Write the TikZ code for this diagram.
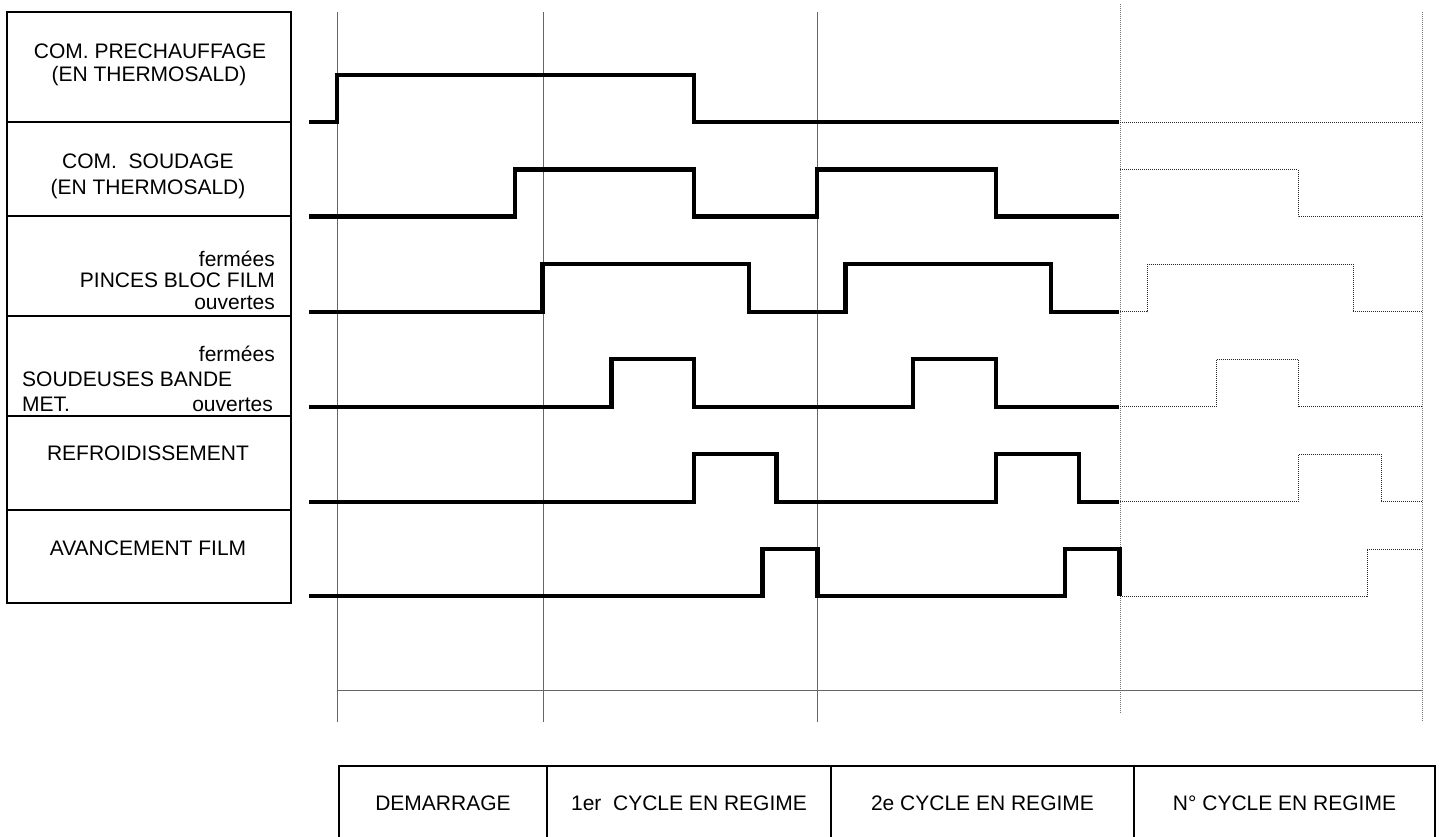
\documentclass[tikz,border=0pt]{standalone}
\usepackage{fontspec}
\setmainfont{Liberation Sans}
\begin{document}
\begin{tikzpicture}[x=1pt,y=-1pt,
  font=\fontsize{21}{24}\selectfont,
  lbox/.style={draw, line width=2.2pt, minimum width=284pt, inner sep=0pt, outer sep=0pt},
  lab/.style={inner sep=0pt, anchor=base},
  gridline/.style={line width=1pt, black!60},
  griddot/.style={line width=1pt, black!55, dash pattern=on 1pt off 1pt},
  sig/.style={line width=4.2pt, line join=miter, line cap=butt},
  sigdot/.style={line width=1pt, black!85, dash pattern=on 1pt off 1pt},
  cell/.style={draw, line width=2.4pt, minimum height=73pt, text height=15pt, text depth=0pt, inner sep=0pt, outer sep=0pt}]
\useasboundingbox (0,0) rectangle (1441,836);
\clip (0,0) rectangle (1441,836);

% left label boxes
\node[lbox, minimum height=110pt] (b1) at (149,67) {};
\node[lbox, minimum height=94pt]  (b2) at (149,169) {};
\node[lbox, minimum height=100pt] (b3) at (149,266) {};
\node[lbox, minimum height=100pt] (b4) at (149,366) {};
\node[lbox, minimum height=94pt]  (b5) at (149,463) {};
\node[lbox, minimum height=93pt]  (b6) at (149,556.5) {};

\node[lab] (t1a) at (150,58) {COM. PRECHAUFFAGE};
\node[lab] (t1b) at (149,81.5) {(EN THERMOSALD)};
\node[lab] (t2a) at (148,168) {COM.\ \ SOUDAGE};
\node[lab] (t2b) at (148,194) {(EN THERMOSALD)};
\node[lab, anchor=base east] (t3a) at (275,266.5) {fermées};
\node[lab, anchor=base east] (t3b) at (275,287) {PINCES BLOC FILM};
\node[lab, anchor=base east] (t3c) at (275,309) {ouvertes};
\node[lab, anchor=base east] (t4a) at (275,361.5) {fermées};
\node[lab, anchor=base west] (t4b) at (22,386.5) {SOUDEUSES BANDE};
\node[lab, anchor=base west] (t4c) at (22,411) {MET.};
\node[lab, anchor=base east] (t4d) at (273,411) {ouvertes};
\node[lab] (t5) at (148,460) {REFROIDISSEMENT};
\node[lab] (t6) at (148,555) {AVANCEMENT FILM};

% grid lines
\coordinate (v1t) at (337,12);   \coordinate (v1b) at (337,722);
\coordinate (v2t) at (543,12);   \coordinate (v2b) at (543,722);
\coordinate (v3t) at (817,12);   \coordinate (v3b) at (817,722);
\coordinate (v4t) at (1120,4);   \coordinate (v4b) at (1120,713);
\coordinate (v5t) at (1422,12);  \coordinate (v5b) at (1422,722);
\coordinate (hl) at (337,690.5); \coordinate (hr) at (1422,690.5);
\draw[gridline] (v1t) -- (v1b);
\draw[gridline] (v2t) -- (v2b);
\draw[gridline] (v3t) -- (v3b);
\draw[griddot] (v4t) -- (v4b);
\draw[griddot] (v5t) -- (v5b);
\draw[gridline] (hl) -- (hr);

% solid waveforms
\draw[sig] (309,122) -| (337,75) -| (694,122) -- (1119,122);
\draw[sig] (309,216.5) -| (515,169.5) -| (694,216.5) -| (817,169.5) -| (996,216.5) -- (1119,216.5);
\draw[sig] (309,311.7) -| (542.5,264.3) -| (749,311.7) -| (845.5,264.3) -| (1051,311.7) -- (1119,311.7);
\draw[sig] (309,406.7) -| (611.5,359.3) -| (694,406.7) -| (913,359.3) -| (996,406.7) -- (1119,406.7);
\draw[sig] (309,501.7) -| (694,454.3) -| (776.5,501.7) -| (996,454.3) -| (1079,501.7) -- (1119,501.7);
\draw[sig] (309,596) -| (762.5,549) -| (817.5,596) -| (1065,549) -| (1119.5,596);

% dotted continuations
\draw[sigdot] (1120,122) -- (1422,122);
\draw[sigdot] (1120,169.5) -| (1298,216.5) -- (1422,216.5);
\draw[sigdot] (1120,311.7) -| (1147,264.3) -| (1353,311.7) -- (1422,311.7);
\draw[sigdot] (1120,406.7) -| (1216,359.3) -| (1298,406.7) -- (1422,406.7);
\draw[sigdot] (1120,501.7) -| (1298,454.3) -| (1381,501.7) -- (1422,501.7);
\draw[sigdot] (1120,596) -| (1367,549) -- (1422,549);

% bottom table
\node[cell, minimum width=208pt] (c1) at (443,802.5) {DEMARRAGE};
\node[cell, minimum width=284pt] (c2) at (689,802.5) {1er\ \ CYCLE EN REGIME};
\node[cell, minimum width=303pt] (c3) at (982.5,802.5) {2e CYCLE EN REGIME};
\node[cell, minimum width=301pt] (c4) at (1284.5,802.5) {N° CYCLE EN REGIME};
\end{tikzpicture}
\end{document}
